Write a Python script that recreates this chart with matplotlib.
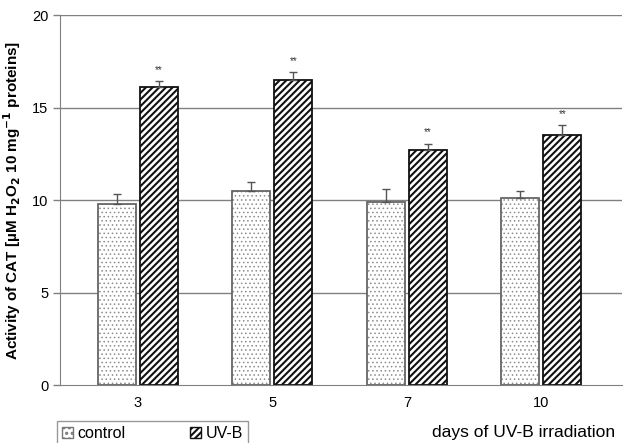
import numpy as np
import matplotlib.pyplot as plt
from matplotlib.patches import Patch

plt.rcParams['font.family'] = ['Liberation Sans', 'DejaVu Sans']
plt.rcParams['hatch.linewidth'] = 1.5

days = ['3', '5', '7', '10']
control = [9.8, 10.5, 9.9, 10.1]
control_err = [0.55, 0.5, 0.7, 0.4]
uvb = [16.1, 16.5, 12.7, 13.5]
uvb_err = [0.33, 0.4, 0.35, 0.55]

fig = plt.figure(figsize=(6.23, 4.43), dpi=100)
ax = fig.add_axes([0.0963, 0.1309, 0.9020, 0.8352])

x = np.arange(len(days))
w = 0.283
off = 0.156

for v in [5, 10, 15, 20]:
    ax.axhline(v, color='#808080', lw=1, zorder=0)

# control: light dotted fill, then gray outline
with plt.rc_context({'hatch.linewidth': 0.6}):
    ax.bar(x - off, control, w, color='white', edgecolor='#8c8c8c', hatch='....',
           lw=0, zorder=2)
ax.bar(x - off, control, w, fill=False, edgecolor='#666666', lw=1.3, zorder=2.5)
ax.bar(x + off, uvb, w, color='white', edgecolor='#111111', hatch='/////',
       lw=1.3, zorder=2)
ax.errorbar(x - off, control, yerr=[np.zeros(4), control_err], fmt='none',
            ecolor='#555555', elinewidth=1, capsize=3, capthick=1, zorder=3)
ax.errorbar(x + off, uvb, yerr=[np.zeros(4), uvb_err], fmt='none',
            ecolor='#555555', elinewidth=1, capsize=3, capthick=1, zorder=3)
for xi, v, e in zip(x, uvb, uvb_err):
    ax.text(xi + off, v + e + 0.35, '**', ha='center', va='bottom',
            fontsize=7, color='#333333')

ax.set_xlim(-0.58, 3.60)
ax.set_ylim(0, 20)
ax.set_yticks([0, 5, 10, 15, 20])
ax.set_xticks(x)
ax.set_xticklabels(days)
ax.tick_params(axis='x', length=0, labelsize=10.5, pad=8)
ax.tick_params(axis='y', length=5, color='#808080', labelsize=10.5, width=1)
for s in ['top', 'right']:
    ax.spines[s].set_visible(False)
ax.spines['left'].set_color('#808080')
ax.spines['bottom'].set_color('#808080')

ax.set_ylabel(r'Activity of CAT [µM H$_\mathbf{2}$O$_\mathbf{2}$ 10 mg$^\mathbf{-1}$ proteins]',
              fontsize=11, fontweight='bold', labelpad=6)

with plt.rc_context({'hatch.linewidth': 0.6}):
    h_control = Patch(facecolor='white', edgecolor='#777777', hatch='...', label='control')
h_uvb = Patch(facecolor='white', edgecolor='#111111', hatch='/////', label='UV-B')
leg = fig.legend(handles=[h_control, h_uvb], loc='upper left',
                 bbox_to_anchor=(57 / 623, 1 - 421 / 443, 191 / 623, 0), mode='expand',
                 ncol=2, frameon=True, fancybox=False, fontsize=11.5, handlelength=0.7,
                 handleheight=0.7, handletextpad=0.3, columnspacing=2.0, borderaxespad=0,
                 borderpad=0.3)
leg.get_frame().set_edgecolor('#808080')
leg.get_frame().set_linewidth(1)

fig.text(615 / 623, 1 - 432 / 443, 'days of UV-B irradiation', ha='right', va='center',
         fontsize=12.5)

fig.savefig('out.png', dpi=100)
